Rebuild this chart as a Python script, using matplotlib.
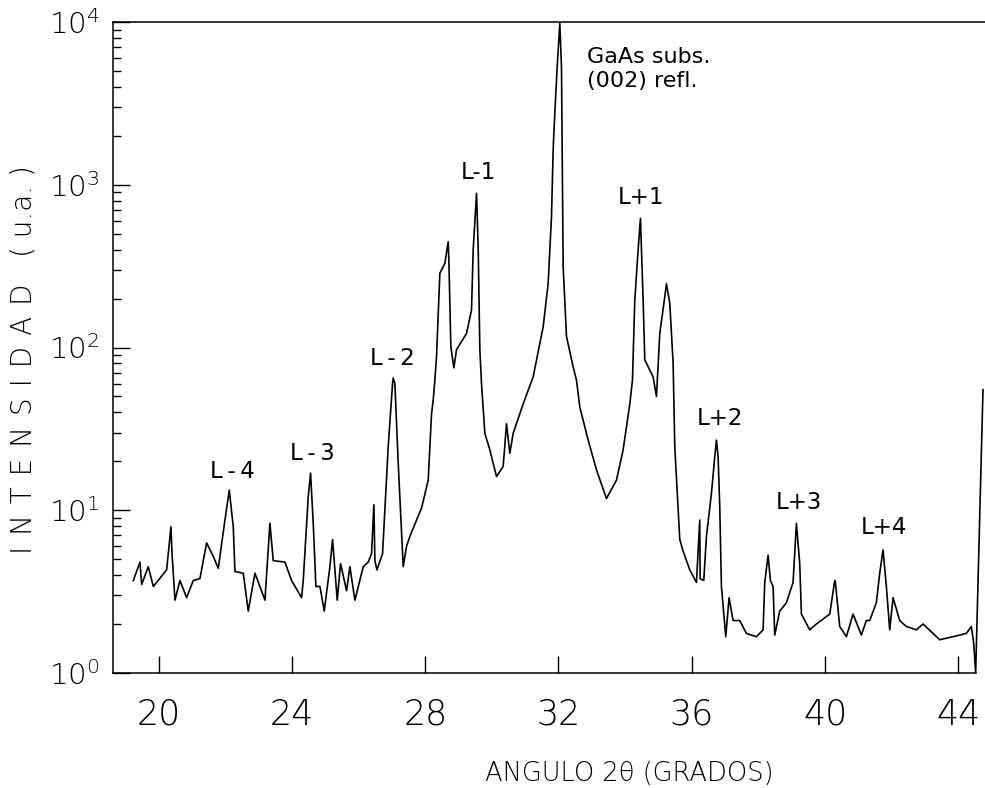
import numpy as np
import matplotlib.pyplot as plt
from matplotlib.ticker import LogLocator, NullFormatter, FixedLocator

# X-ray diffraction scan
two_theta = [19.24, 19.44, 19.49, 19.69, 19.84, 20.24, 20.37, 20.40, 20.49, 20.64,
             20.84, 21.04, 21.24, 21.44, 21.64, 21.79, 21.99, 22.12, 22.24, 22.29,
             22.54, 22.69, 22.89, 23.04, 23.19, 23.34, 23.44, 23.79, 23.99, 24.29,
             24.34, 24.49, 24.56, 24.64, 24.72, 24.84, 24.97, 25.14, 25.22, 25.36,
             25.46, 25.64, 25.74, 25.89, 26.14, 26.29, 26.39, 26.46, 26.49, 26.55,
             26.72, 26.82, 26.89, 27.02, 27.04, 27.09, 27.19, 27.34, 27.44, 27.54,
             27.74, 27.89, 28.09, 28.19, 28.24, 28.29, 28.34, 28.44, 28.59, 28.69,
             28.71, 28.77, 28.86, 28.94, 29.24, 29.39, 29.44, 29.54, 29.59, 29.64,
             29.69, 29.79, 29.94, 30.14, 30.34, 30.44, 30.54, 30.64, 30.94, 31.24,
             31.54, 31.69, 31.79, 31.84, 31.86, 31.96, 32.04, 32.09, 32.14, 32.24,
             32.44, 32.54, 32.64, 32.89, 33.14, 33.44, 33.74, 33.94, 34.14, 34.22,
             34.29, 34.39, 34.46, 34.54, 34.59, 34.84, 34.94, 35.04, 35.19, 35.24,
             35.34, 35.44, 35.47, 35.49, 35.64, 35.74, 35.94, 36.14, 36.24, 36.25,
             36.36, 36.44, 36.59, 36.69, 36.74, 36.79, 36.84, 36.89, 37.02, 37.12,
             37.24, 37.44, 37.64, 37.94, 38.14, 38.19, 38.29, 38.36, 38.44, 38.49,
             38.64, 38.84, 39.04, 39.14, 39.24, 39.29, 39.54, 39.74, 40.14, 40.29,
             40.31, 40.44, 40.64, 40.84, 41.09, 41.24, 41.34, 41.54, 41.64, 41.74,
             41.84, 41.94, 42.04, 42.24, 42.44, 42.74, 42.94, 43.24, 43.44, 43.84,
             44.24, 44.39, 44.46, 44.52, 44.74]
intensity = [3.7, 4.8, 3.5, 4.5, 3.4, 4.3, 7.9, 5.5, 2.8, 3.7,
             2.9, 3.7, 3.8, 6.3, 5.2, 4.4, 8.7, 13.3, 7.9, 4.2,
             4.1, 2.4, 4.1, 3.4, 2.8, 8.3, 4.9, 4.8, 3.7, 2.9,
             3.7, 12.1, 16.9, 8.3, 3.4, 3.4, 2.4, 4.5, 6.6, 2.8,
             4.7, 3.2, 4.5, 2.8, 4.5, 4.8, 5.4, 10.8, 4.9, 4.3,
             5.4, 13.3, 24.6, 60, 65, 60, 19.5, 4.5, 6.0, 6.9,
             8.7, 10.3, 15.3, 39, 47.6, 63, 88, 286, 329, 447,
             345, 101, 75, 97, 122, 170, 398, 886, 416, 97,
             60, 29.7, 23.5, 16.1, 18.6, 34, 22.4, 29.7, 45, 66,
             134, 247, 636, 1630, 2070, 5300, 9800, 5300, 314, 117,
             76, 63, 43, 27, 17.7, 11.8, 15.3, 23.5, 45, 63,
             196, 398, 622, 196, 84, 66, 50, 122, 205, 247,
             187, 80, 40, 24.6, 6.6, 5.6, 4.3, 3.6, 8.7, 3.8,
             3.7, 6.9, 12.7, 21.3, 27, 21.3, 10.5, 3.4, 1.67, 2.9,
             2.1, 2.1, 1.75, 1.67, 1.84, 3.6, 5.3, 3.7, 3.4, 1.71,
             2.4, 2.7, 3.6, 8.3, 4.7, 2.3, 1.84, 2.0, 2.3, 3.7,
             3.6, 1.93, 1.67, 2.3, 1.71, 2.1, 2.1, 2.7, 4.1, 5.7,
             3.4, 1.84, 2.9, 2.1, 1.93, 1.84, 2.0, 1.75, 1.6, 1.67,
             1.75, 1.93, 1.53, 1.0, 55]

xticks = [20, 24, 28, 32, 36, 40, 44]

peak_labels = ['L\u2009-\u20094', 'L\u2009-\u20093', 'L\u2009-\u20092', 'L-1',
               'L+1', 'L+2', 'L+3', 'L+4']
label_x = [22.2, 24.6, 27.0, 29.61, 34.47, 36.84, 39.21, 41.76]
label_y = [17.2, 22.2, 86, 1197, 841, 36.4, 11.1, 7.8]

if __name__ == "__main__":

    plt.rcParams['mathtext.default'] = 'regular'
    fig = plt.figure(figsize=(9.85, 7.88), dpi=100)
    ax = fig.add_axes([0.1147, 0.146, 0.8853, 0.826])

    ax.plot(two_theta, intensity, '-', color='black', lw=1.2)
    ax.set_yscale('log')
    ax.set_xlim(18.63, 44.8)
    ax.set_ylim(1, 1e4)

    ax.xaxis.set_major_locator(FixedLocator(xticks))
    ax.set_xticklabels([str(t) for t in xticks])
    ax.yaxis.set_major_locator(LogLocator(base=10, numticks=10))
    ax.yaxis.set_minor_locator(LogLocator(base=10, subs=np.arange(2, 10), numticks=10))
    ax.yaxis.set_minor_formatter(NullFormatter())

    ax.tick_params(axis='x', which='major', direction='in', length=12, width=1,
                   labelsize=25, pad=18, colors='black')
    ax.tick_params(axis='y', which='major', direction='in', length=12, width=1,
                   labelsize=21, pad=10)
    ax.tick_params(axis='y', which='minor', direction='in', length=6, width=1)
    for t in ax.get_xticklabels() + ax.get_yticklabels():
        t.set_fontweight('light')

    ax.spines['right'].set_visible(False)
    ax.spines['bottom'].set_bounds(18.63, 44.52)
    for s in ['left', 'top', 'bottom']:
        ax.spines[s].set_linewidth(1.1)

    ax.set_xlabel('ANGULO 2θ (GRADOS)', fontsize=18.5, fontweight='light')
    ax.xaxis.set_label_coords(0.592, -0.135)
    sp = '\u2009\u2009'
    ax.set_ylabel(sp.join('INTENSIDAD') + '   ( u.a. )',
                  fontsize=20, fontweight='light')
    ax.yaxis.set_label_coords(-0.086, 0.482)

    for lab, lx, ly in zip(peak_labels, label_x, label_y):
        ax.text(lx, ly, lab, fontsize=16.5, ha='center', va='center')
    ax.text(32.85, 7000, 'GaAs subs.\n(002) refl.', fontsize=16, ha='left', va='top',
            linespacing=1.25)

    plt.savefig('out.png', dpi=100)
